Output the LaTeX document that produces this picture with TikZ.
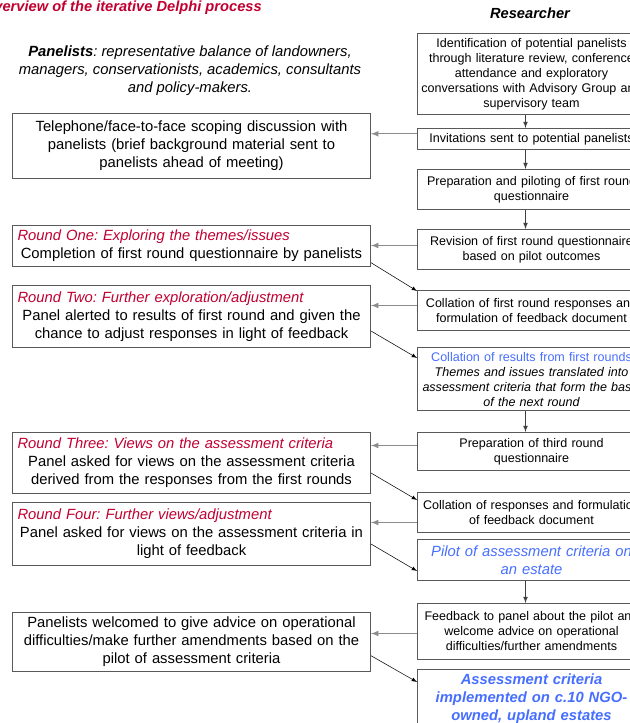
\documentclass[tikz,border=0pt]{standalone}
\usepackage{fontspec}
\setmainfont{Liberation Sans}
\frenchspacing
\definecolor{roundred}{RGB}{192,0,48}
\definecolor{pilotblue}{RGB}{70,110,255}
\newcommand{\lsize}{\fontsize{11.1}{13.5}\selectfont}
\newcommand{\rsize}{\fontsize{9.4}{11.25}\selectfont}
\newcommand{\rhead}[1]{\makebox[\hsize][l]{\color{roundred}\itshape #1}}
\newcommand{\wide}[1]{\makebox[\hsize]{#1}}

\begin{document}
\begin{tikzpicture}[x=0.75pt,y=-0.75pt,>=latex]
      \tikzstyle{panel}=[draw=black!65,line width=0.75pt,anchor=north west,text width=261pt,inner xsep=3.75pt,align=center,font=\lsize]
      \tikzstyle{res}=[draw=black!65,line width=0.75pt,anchor=north west,text width=164pt,inner xsep=3.5pt,align=center,font=\rsize]
      \tikzstyle{down}=[->,draw=black!75,line width=0.6pt]
      \tikzstyle{back}=[->,draw=black!45,line width=0.9pt]
      \tikzstyle{across}=[->,draw=black,line width=0.4pt]
      \useasboundingbox (0,0) rectangle (630,723);
      \clip (0,0) rectangle (630,723);
      \node[anchor=base east,inner sep=0,font=\fontsize{11}{13}\selectfont\bfseries\itshape,text=roundred] (title) at (262,12) {Overview of the iterative Delphi process};
      \node[font=\fontsize{11}{13}\selectfont\bfseries\itshape] (researcher) at (530,13) {Researcher};
      \node[align=center,font=\lsize\itshape] (panelists) at (190,71) {\textbf{Panelists}: representative balance of landowners,\\managers, conservationists, academics, consultants\\and policy-makers.};
      \node[panel,minimum height=48.75pt] (scoping) at (12,113) {Telephone/face-to-face scoping discussion with\\panelists (brief background material sent to\\panelists ahead of meeting)};
      \node[panel,minimum height=30pt] (round1) at (12,225) {\rhead{Round One: Exploring the themes/issues}\\\wide{Completion of first round questionnaire by panelists}};
      \node[panel,minimum height=46.5pt] (round2) at (12,285) {\rhead{Round Two: Further exploration/adjustment}\\\wide{Panel alerted to results of first round and given the}\\\wide{chance to adjust responses in light of feedback}};
      \node[panel,minimum height=45.75pt] (round3) at (12,432) {\rhead{Round Three: Views on the assessment criteria}\\\wide{Panel asked for views on the assessment criteria}\\\wide{derived from the responses from the first rounds}};
      \node[panel,minimum height=47.25pt] (round4) at (12,502) {\rhead{Round Four: Further views/adjustment}\\\wide{Panel asked for views on the assessment criteria in}\\light of feedback};
      \node[panel,minimum height=43.5pt] (advice) at (12,612) {\wide{Panelists welcomed to give advice on operational}\\\wide{difficulties/make further amendments based on the}\\pilot of assessment criteria};
      \node[res,minimum height=57.75pt] (ident) at (417,33) {\wide{Identification of potential panelists}\\\wide{through literature review, conference}\\attendance and exploratory\\\wide{conversations with Advisory Group and}\\supervisory team};
      \node[res,minimum height=15pt] (invite) at (417,128) {\wide{Invitations sent to potential panelists}};
      \node[res,minimum height=30pt] (prep) at (417,169) {\wide{Preparation and piloting of first round}\\questionnaire};
      \node[res,minimum height=30pt] (revise) at (417,229) {\wide{Revision of first round questionnaire}\\based on pilot outcomes};
      \node[res,minimum height=30pt] (collate) at (417,290) {\wide{Collation of first round responses and}\\formulation of feedback document};
      \node[res,minimum height=46.5pt] (results) at (417,347) {\wide{\color{pilotblue}Collation of results from first rounds}\\\itshape\wide{Themes and issues translated into}\\\wide{assessment criteria that form the basis}\\of the next round};
      \node[res,minimum height=28.5pt] (third) at (417,432) {Preparation of third round\\questionnaire};
      \node[res,minimum height=30pt] (collate2) at (417,492) {\wide{Collation of responses and formulation}\\of feedback document};
      \node[res,minimum height=30.75pt,font=\lsize\itshape,text=pilotblue] (pilot) at (417,539) {\wide{Pilot of assessment criteria on}\\an estate};
      \node[res,minimum height=42pt] (feedback) at (417,603) {\wide{Feedback to panel about the pilot and}\\welcome advice on operational\\difficulties/further amendments};
      \node[res,minimum height=43.5pt,font=\lsize\bfseries\itshape,text=pilotblue] (estates) at (417,669) {Assessment criteria\\implemented on c.10 NGO-\\owned, upland estates};
      \draw[down] ([xshift=-4.5pt]ident.south) -- ([xshift=-4.5pt]invite.north);
      \draw[down] ([xshift=-4.5pt]invite.south) -- ([xshift=-4.5pt]prep.north);
      \draw[down] ([xshift=-4.5pt]prep.south) -- ([xshift=-4.5pt]revise.north);
      \draw[down] ([xshift=-4.5pt]results.south) -- ([xshift=-4.5pt]third.north);
      \draw[down] ([xshift=-4.5pt]pilot.south) -- ([xshift=-4.5pt]feedback.north);
      \draw[back] ([yshift=3.75pt]invite.west) -- ([yshift=3.75pt]invite.west -| scoping.east);
      \draw[back] ([yshift=3pt]revise.west) -- ([yshift=3pt]revise.west -| round1.east);
      \draw[back] ([yshift=3.75pt]collate.west) -- ([yshift=3.75pt]collate.west -| round2.east);
      \draw[back] ([yshift=4.5pt]third.west) -- ([yshift=4.5pt]third.west -| round3.east);
      \draw[back] ([yshift=-7.5pt]collate2.west) -- ([yshift=-7.5pt]collate2.west -| round4.east);
      \draw[back] ([yshift=-1.5pt]feedback.west) -- ([yshift=-1.5pt]feedback.west -| advice.east);
      \draw[across] ([yshift=3pt]round1.south east) -- ([yshift=-0.75pt]collate.north west);
      \draw[across] ([yshift=12.75pt]round2.south east) -- ([yshift=-8.25pt]results.north west);
      \draw[across] ([yshift=15.75pt]round3.south east) -- ([yshift=-6pt]collate2.north west);
      \draw[across] ([yshift=16.5pt]round4.south east) -- ([yshift=-24pt]pilot.north west);
      \draw[across] ([yshift=12pt]advice.south east) -- ([yshift=-9.75pt]estates.north west);
\end{tikzpicture}
\end{document}
